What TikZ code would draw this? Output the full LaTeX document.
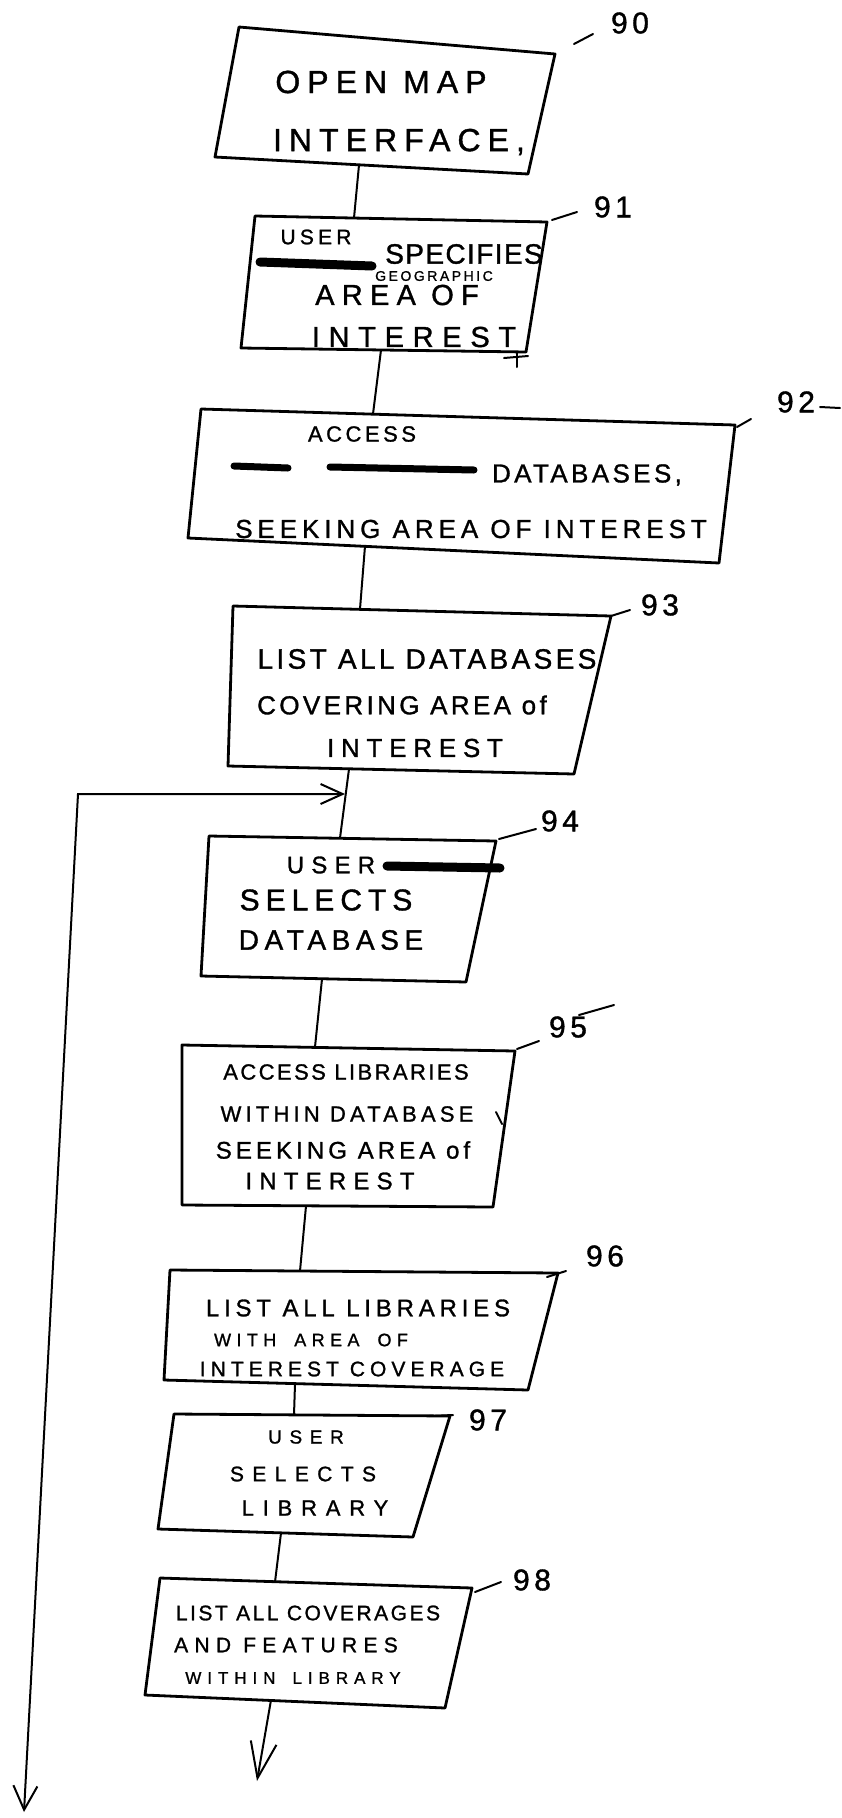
\documentclass[tikz,border=0pt]{standalone}
\usepackage{fontspec}
\setmainfont{Liberation Sans}
\usetikzlibrary{arrows.meta}
\newcommand\hf[2]{\fontsize{#1}{#1}\selectfont\addfontfeature{LetterSpace=#2,FakeBold=1.2}}
\begin{document}
\begin{tikzpicture}[x=1pt,y=-1pt,
  box/.style={line width=2.8pt, line join=round},
  link/.style={line width=2pt},
  lead/.style={line width=2pt, line cap=round},
  txt/.style={inner sep=0pt, anchor=center},
  num/.style={inner sep=0pt, anchor=center, font=\hf{30}{15}},
  blob/.style={line width=9pt, line cap=round},
  barb/.style={line width=2pt, -{Straight Barb[length=22pt,width=20pt,line width=2pt]}}]
\useasboundingbox (0,0) rectangle (841,1818);

% ---------- box corners ----------
\coordinate (b90nw) at (239,27);   \coordinate (b90ne) at (555,54);
\coordinate (b90se) at (528,174);  \coordinate (b90sw) at (215,157);
\coordinate (b91nw) at (255,216);  \coordinate (b91ne) at (547,222);
\coordinate (b91se) at (526,352);  \coordinate (b91sw) at (241,348);
\coordinate (b92nw) at (201,409);  \coordinate (b92ne) at (735,425);
\coordinate (b92se) at (719,563);  \coordinate (b92sw) at (188,538);
\coordinate (b93nw) at (233,606);  \coordinate (b93ne) at (611,616);
\coordinate (b93se) at (574,774);  \coordinate (b93sw) at (228,766);
\coordinate (b94nw) at (209,836);  \coordinate (b94ne) at (496,841);
\coordinate (b94se) at (466,982);  \coordinate (b94sw) at (201,976);
\coordinate (b95nw) at (182,1045); \coordinate (b95ne) at (515,1051);
\coordinate (b95se) at (493,1207); \coordinate (b95sw) at (182,1205);
\coordinate (b96nw) at (170,1270); \coordinate (b96ne) at (558,1273);
\coordinate (b96se) at (528,1390); \coordinate (b96sw) at (164,1380);
\coordinate (b97nw) at (174,1414); \coordinate (b97ne) at (450,1416);
\coordinate (b97se) at (413,1537); \coordinate (b97sw) at (158,1529);
\coordinate (b98nw) at (160,1578); \coordinate (b98ne) at (472,1588);
\coordinate (b98se) at (445,1708); \coordinate (b98sw) at (145,1695);

\foreach \b in {90,91,92,93,94,95,96,97,98}
  \draw[box] (b\b nw) -- (b\b ne) -- (b\b se) -- (b\b sw) -- cycle;

% small extra strokes
\coordinate (x91a) at (504,358); \coordinate (x91b) at (528,356);
\coordinate (x91c) at (517,352); \coordinate (x91d) at (517,367);
\draw[lead] (x91a) -- (x91b);
\draw[lead] (x91c) -- (x91d);
\coordinate (x95a) at (496,1112); \coordinate (x95b) at (502,1124);
\draw[lead] (x95a) -- (x95b);

% ---------- texts ----------
\node[txt, font=\hf{32}{22}] (t90a) at (381,82) {OPEN\enspace MAP};
\node[txt, font=\hf{32}{22}] (t90b) at (399,142) {INTERFACE,};

\node[txt, font=\hf{21}{20}] (t91a) at (316,237) {USER};
\node[txt, font=\hf{28}{5}]  (t91b) at (464,254) {SPECIFIES};
\node[txt, font=\hf{14}{18}] (t91c) at (434,276) {GEOGRAPHIC};
\node[txt, font=\hf{29}{25}] (t91d) at (397,295) {AREA OF};
\node[txt, font=\hf{29}{30}] (t91e) at (414,337) {INTEREST};
\coordinate (s91a) at (260,262); \coordinate (s91b) at (372,266);
\draw[blob] (s91a) -- (s91b);

\node[txt, font=\hf{22}{16}] (t92a) at (362,434) {ACCESS};
\node[txt, font=\hf{26}{13}] (t92b) at (587,475) {DATABASES,};
\node[txt, font=\hf{26}{19}] (t92c) at (471,529) {SEEKING AREA OF INTEREST};
\coordinate (s92a) at (234,466); \coordinate (s92b) at (288,468);
\coordinate (s92c) at (330,467); \coordinate (s92d) at (474,470);
\draw[blob, line width=7pt] (s92a) -- (s92b);
\draw[blob, line width=7pt] (s92c) -- (s92d);

\node[txt, font=\hf{28}{12}] (t93a) at (427,659) {LIST ALL DATABASES};
\node[txt, font=\hf{26}{13}] (t93b) at (402,705) {COVERING AREA of};
\node[txt, font=\hf{26}{26}] (t93c) at (415,748) {INTEREST};

\node[txt, font=\hf{24}{30}] (t94a) at (331,865) {USER};
\node[txt, font=\hf{30}{20}] (t94b) at (326,900) {SELECTS};
\node[txt, font=\hf{28}{20}] (t94c) at (331,940) {DATABASE};
\coordinate (s94a) at (387,866); \coordinate (s94b) at (500,868);
\draw[blob] (s94a) -- (s94b);

\node[txt, font=\hf{22}{11}] (t95a) at (346,1072) {ACCESS LIBRARIES};
\node[txt, font=\hf{22}{19}] (t95b) at (347,1114) {WITHIN DATABASE};
\node[txt, font=\hf{24}{17}] (t95c) at (343,1150) {SEEKING AREA of};
\node[txt, font=\hf{24}{30}] (t95d) at (330,1181) {INTEREST};

\node[txt, font=\hf{24}{20}] (t96a) at (358,1308) {LIST ALL LIBRARIES};
\node[txt, font=\hf{18}{30}] (t96b) at (311,1340) {WITH\quad AREA\quad OF};
\node[txt, font=\hf{21}{24}] (t96c) at (352,1369) {INTEREST COVERAGE};

\node[txt, font=\hf{19}{40}] (t97a) at (306,1437) {USER};
\node[txt, font=\hf{21}{40}] (t97b) at (303,1474) {SELECTS};
\node[txt, font=\hf{22}{40}] (t97c) at (315,1508) {LIBRARY};

\node[txt, font=\hf{21}{12}] (t98a) at (308,1613) {LIST ALL COVERAGES};
\node[txt, font=\hf{21}{30}] (t98b) at (286,1645) {AND FEATURES};
\node[txt, font=\hf{17}{35}] (t98c) at (293,1678) {WITHIN\quad LIBRARY};

% ---------- reference numerals ----------
\node[num] (n90) at (630,23) {90};
\node[num] (n91) at (613,207) {91};
\node[num] (n92) at (796,402) {92};
\node[num] (n93) at (660,605) {93};
\node[num] (n94) at (560,821) {94};
\node[num] (n95) at (568,1027) {95};
\node[num] (n96) at (605,1256) {96};
\node[num] (n97) at (488,1420) {97};
\node[num] (n98) at (532,1580) {98};

\coordinate (l90a) at (574,44);   \coordinate (l90b) at (593,34);
\coordinate (l91a) at (552,220);  \coordinate (l91b) at (577,212);
\coordinate (l92a) at (737,427);  \coordinate (l92b) at (751,419);
\coordinate (l92c) at (820,407);  \coordinate (l92d) at (840,408);
\coordinate (l93a) at (611,616);  \coordinate (l93b) at (630,610);
\coordinate (l94a) at (499,839);  \coordinate (l94b) at (536,829);
\coordinate (l95a) at (517,1049); \coordinate (l95b) at (539,1041);
\coordinate (l95c) at (579,1015); \coordinate (l95d) at (614,1005);
\coordinate (l96a) at (547,1277); \coordinate (l96b) at (566,1271);
\coordinate (l97a) at (429,1416); \coordinate (l97b) at (453,1415);
\coordinate (l98a) at (475,1592); \coordinate (l98b) at (501,1582);
\foreach \p in {90,91,92,93,94,95,96,97,98}
  \draw[lead] (l\p a) -- (l\p b);
\draw[lead] (l92c) -- (l92d);
\draw[lead] (l95c) -- (l95d);

% ---------- connectors ----------
\coordinate (c90o) at (359,165);  \coordinate (c91i) at (354,218);
\coordinate (c91o) at (381,350);  \coordinate (c92i) at (373,414);
\coordinate (c92o) at (365,546);  \coordinate (c93i) at (360,609);
\coordinate (c93o) at (349,769);  \coordinate (c94i) at (340,838);
\coordinate (c94o) at (322,979);  \coordinate (c95i) at (315,1047);
\coordinate (c95o) at (306,1206); \coordinate (c96i) at (300,1271);
\coordinate (c96o) at (295,1384); \coordinate (c97i) at (294,1415);
\coordinate (c97o) at (281,1533); \coordinate (c98i) at (275,1582);
\coordinate (c98o) at (271,1700); \coordinate (out98) at (257,1781);

\draw[link] (c90o) -- (c91i);
\draw[link] (c91o) -- (c92i);
\draw[link] (c92o) -- (c93i);
\draw[link] (c93o) -- (c94i);
\draw[link] (c94o) -- (c95i);
\draw[link] (c95o) -- (c96i);
\draw[link] (c96o) -- (c97i);
\draw[link] (c97o) -- (c98i);
\draw[link, -{Straight Barb[length=36pt,width=26pt,line width=2pt]}] (c98o) -- (out98);

% loop line
\coordinate (join) at (345,794);
\coordinate (corner) at (78,794);
\coordinate (loopend) at (24,1812);
\draw[link, {Straight Barb[length=24pt,width=24pt,line width=2pt]}-{Straight Barb[length=22pt,width=20pt,line width=2pt]}]
  (loopend) -- (corner) -- (join);
\end{tikzpicture}
\end{document}
